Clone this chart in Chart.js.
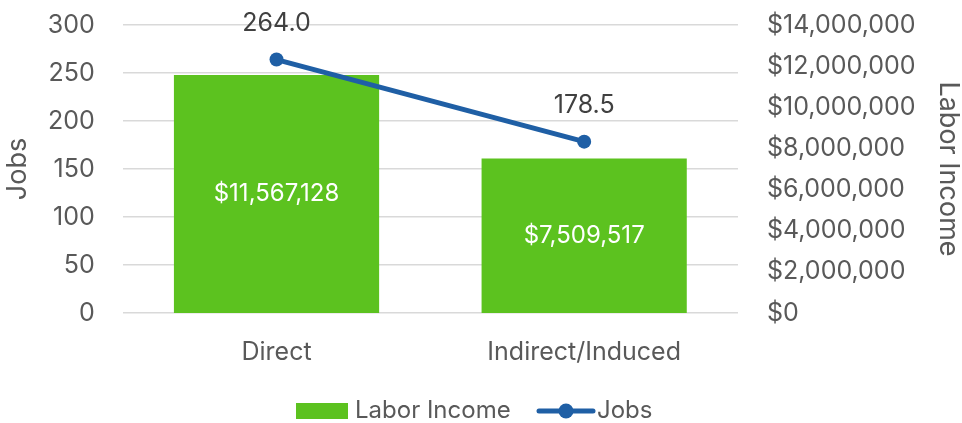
<!DOCTYPE html>
<html>
<head>
<meta charset="utf-8">
<script src="https://cdn.jsdelivr.net/npm/chart.js@4.4.0/dist/chart.umd.min.js"></script>
<style>
  html, body { margin: 0; padding: 0; background: #fff; }
  #wrap { width: 962px; height: 423px; }
</style>
</head>
<body>
<div id="wrap"><canvas id="myChart" width="962" height="423"></canvas></div>
<script>
var categories = ['Direct', 'Indirect/Induced'];
var laborIncome = [11567128, 7509517];
var jobs = [264.0, 178.5];

var green = '#5CC21F';
var blue = '#1F5FA5';
var grey = '#595959';
var fontFamily = 'Inter, "Noto Sans", sans-serif';

function money(v) {
	return '$' + Math.round(v).toLocaleString('en-US');
}

// value labels + legend drawn by hand
var labelsPlugin = {
	id: 'labelsPlugin',
	afterDatasetsDraw: function(chart) {
		var c = chart.ctx;
		c.save();
		c.textAlign = 'center';
		c.textBaseline = 'middle';
		c.font = '24px ' + fontFamily;
		c.fillStyle = '#ffffff';
		chart.getDatasetMeta(0).data.forEach(function(bar, i) {
			var y = (bar.y + bar.base) / 2;
			c.fillText(money(laborIncome[i]), bar.x, y);
		});
		c.font = '25px ' + fontFamily;
		c.fillStyle = '#404040';
		chart.getDatasetMeta(1).data.forEach(function(pt, i) {
			c.fillText(jobs[i].toFixed(1), pt.x, pt.y - 36);
		});

		// legend
		var ly = 411;
		c.fillStyle = green;
		c.fillRect(296, ly - 8, 52, 16);
		c.fillStyle = grey;
		c.textAlign = 'left';
		c.font = '24px ' + fontFamily;
		c.fillText('Labor Income', 355, ly);
		c.strokeStyle = blue;
		c.lineWidth = 5;
		c.lineCap = 'round';
		c.beginPath();
		c.moveTo(539, ly);
		c.lineTo(593, ly);
		c.stroke();
		c.fillStyle = blue;
		c.beginPath();
		c.arc(566, ly, 7.5, 0, Math.PI * 2);
		c.fill();
		c.fillStyle = grey;
		c.fillText('Jobs', 597, ly);
		c.restore();
	}
};

function fixY(w) {
	return function(s) {
		s.width = w;
		s.paddingTop = 0;
		s.paddingBottom = 0;
	};
}

var ctx = document.getElementById('myChart');
var chart = new Chart(ctx, {
	data: {
		labels: categories,
		datasets: [
			{
				type: 'bar',
				label: 'Labor Income',
				data: laborIncome,
				backgroundColor: green,
				yAxisID: 'yIncome',
				categoryPercentage: 1,
				barPercentage: 0.667,
				order: 2
			},
			{
				type: 'line',
				label: 'Jobs',
				data: jobs,
				borderColor: blue,
				backgroundColor: blue,
				borderWidth: 5,
				pointRadius: 7,
				pointBackgroundColor: blue,
				pointBorderWidth: 0,
				yAxisID: 'yJobs',
				order: 1
			}
		]
	},
	options: {
		responsive: false,
		animation: false,
		layout: { padding: { left: 0, right: 0, top: 25, bottom: 0 } },
		plugins: {
			legend: { display: false },
			tooltip: { enabled: false }
		},
		scales: {
			x: {
				grid: { display: false, drawTicks: false },
				border: { display: false },
				ticks: { color: grey, font: { family: fontFamily, size: 25 }, padding: 24 },
				afterFit: function(s) { s.height = 423 - 313; }
			},
			yJobs: {
				position: 'left',
				min: 0, max: 300,
				ticks: { stepSize: 50, color: grey, font: { family: fontFamily, size: 25 }, padding: 28 },
				grid: { color: '#d9d9d9', lineWidth: 1.5, drawTicks: false },
				border: { display: false },
				title: { display: true, text: 'Jobs', color: grey, font: { family: fontFamily, size: 27, lineHeight: 1 }, padding: { top: 4, bottom: 0 } },
				afterFit: fixY(122.7)
			},
			yIncome: {
				position: 'right',
				min: 0, max: 14000000,
				ticks: {
					stepSize: 2000000, color: grey,
					font: { family: fontFamily, size: 25 }, padding: 29,
					callback: function(v) { return money(v); }
				},
				grid: { display: false, drawTicks: false },
				border: { display: false },
				title: { display: true, text: 'Labor Income', color: grey, font: { family: fontFamily, size: 27, lineHeight: 1 }, padding: 0 },
				afterFit: fixY(962 - 738)
			}
		}
	},
	plugins: [labelsPlugin]
});
</script>
</body>
</html>
